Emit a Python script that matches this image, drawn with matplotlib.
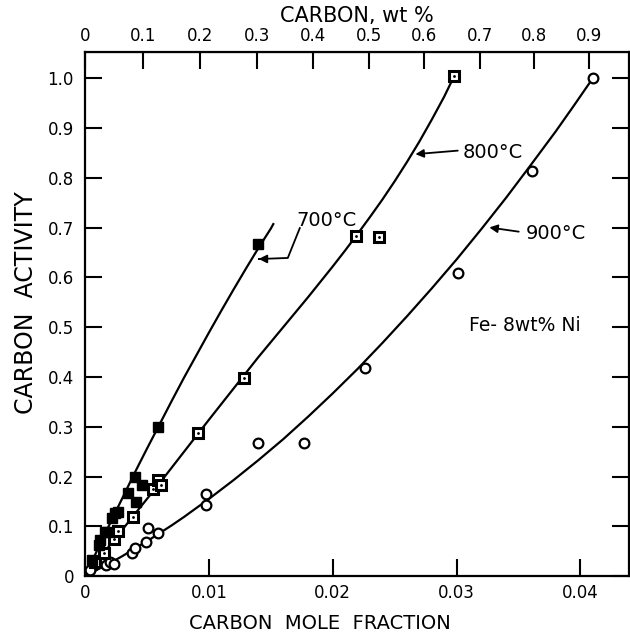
import numpy as np
import matplotlib
matplotlib.use("Agg")
import matplotlib.pyplot as plt

# measured points (carbon mole fraction, carbon activity)
x700 = [0.0006, 0.0011, 0.0012, 0.0016, 0.0018, 0.0022, 0.0024, 0.0027, 0.0035,
        0.0040, 0.0041, 0.0046, 0.0059, 0.0140]
y700 = [0.032, 0.062, 0.072, 0.088, 0.088, 0.116, 0.126, 0.129, 0.167,
        0.199, 0.149, 0.183, 0.299, 0.667]

x800 = [0.0008, 0.0015, 0.0023, 0.0027, 0.0039, 0.0055, 0.0059, 0.0061, 0.0091,
        0.0128, 0.0219, 0.0237, 0.0298]
y800 = [0.028, 0.046, 0.074, 0.090, 0.118, 0.175, 0.193, 0.183, 0.287,
        0.398, 0.683, 0.681, 1.004]

x900 = [0.0004, 0.0017, 0.0020, 0.0023, 0.0038, 0.0040, 0.0049, 0.0051, 0.0059,
        0.0098, 0.0098, 0.0140, 0.0177, 0.0226, 0.0301, 0.0361, 0.0410]
y900 = [0.012, 0.022, 0.028, 0.024, 0.046, 0.056, 0.068, 0.096, 0.086,
        0.143, 0.165, 0.267, 0.267, 0.418, 0.608, 0.813, 1.0]

# hand drawn curves
c700_x = [0, 0.001, 0.002, 0.003, 0.004, 0.005, 0.006, 0.007, 0.008, 0.009,
          0.010, 0.011, 0.012, 0.013, 0.014, 0.015, 0.0152]
c700_y = [0, 0.053, 0.105, 0.156, 0.207, 0.256, 0.304, 0.352, 0.399, 0.444,
          0.489, 0.533, 0.576, 0.618, 0.659, 0.698, 0.707]

c800_x = [0, 0.002, 0.004, 0.006, 0.008, 0.010, 0.012, 0.014, 0.016, 0.018,
          0.020, 0.021, 0.022, 0.023, 0.024, 0.025, 0.026, 0.027, 0.028, 0.029, 0.0298]
c800_y = [0, 0.062, 0.124, 0.186, 0.250, 0.314, 0.377, 0.440, 0.500, 0.560,
          0.622, 0.654, 0.687, 0.721, 0.756, 0.793, 0.832, 0.873, 0.917, 0.963, 1.004]

c900_x = [0, 0.001, 0.002, 0.003, 0.004, 0.005, 0.006, 0.007, 0.008, 0.009,
          0.010, 0.012, 0.014, 0.016, 0.018, 0.020, 0.022, 0.024, 0.026, 0.028,
          0.030, 0.032, 0.034, 0.036, 0.038, 0.0395, 0.041]
c900_y = [0, 0.013, 0.026, 0.040, 0.055, 0.070, 0.086, 0.102, 0.119, 0.137,
          0.155, 0.193, 0.233, 0.275, 0.320, 0.367, 0.416, 0.468, 0.522, 0.578,
          0.636, 0.697, 0.760, 0.826, 0.893, 0.946, 1.0]

y_ticks = [0, 0.1, 0.2, 0.3, 0.4, 0.5, 0.6, 0.7, 0.8, 0.9, 1.0]
y_labels = ['0', '0.1', '0.2', '0.3', '0.4', '0.5', '0.6', '0.7', '0.8', '0.9', '1.0']
x_ticks = [0, 0.01, 0.02, 0.03, 0.04]
x_labels = ['0', '0.01', '0.02', '0.03', '0.04']
wt_ticks = [0, 0.1, 0.2, 0.3, 0.4, 0.5, 0.6, 0.7, 0.8, 0.9]
wt_labels = ['0', '0.1', '0.2', '0.3', '0.4', '0.5', '0.6', '0.7', '0.8', '0.9']

M_C = 12.011
M_ALLOY = 56.07  # Fe-8wt%Ni


def mf2wt(x):
    x = np.asarray(x, dtype=float)
    return 100 * M_C * x / (M_C * x + (1 - x) * M_ALLOY)


def wt2mf(w):
    w = np.asarray(w, dtype=float)
    a = w / M_C
    return a / (a + (100 - w) / M_ALLOY)


plt.rcParams['font.family'] = ['DejaVu Sans']
fig = plt.figure(figsize=(6.3, 6.38), dpi=100)
ax = fig.add_axes([0.135, 0.097, 0.863, 0.821])

ax.plot(c700_x, c700_y, 'k-', lw=1.6)
ax.plot(c800_x, c800_y, 'k-', lw=1.6)
ax.plot(c900_x, c900_y, 'k-', lw=1.6)

ax.plot(x900, y900, 'o', ms=7, mfc='white', mec='black', mew=1.6, zorder=3)
ax.plot(x800, y800, 's', ms=6.5, mfc='white', mec='black', mew=2.2, zorder=3)
ax.plot(x800, y800, '.', ms=2, color='black', zorder=4)
ax.plot(x700, y700, 's', ms=7, color='black', zorder=3)

ax.set_xlim(0, 0.0439)
ax.set_ylim(0, 1.052)
ax.set_xticks(x_ticks)
ax.set_xticklabels(x_labels)
ax.set_yticks(y_ticks)
ax.set_yticklabels(y_labels)
ax.tick_params(direction='in', length=12, width=1.5, labelsize=12, right=True)
ax.tick_params(axis='x', pad=6)
ax.tick_params(axis='y', pad=8)
for s in ax.spines.values():
    s.set_linewidth(1.6)

ax.set_xlabel('CARBON  MOLE  FRACTION', fontsize=14)
ax.xaxis.set_label_coords(0.432, -0.072)
ax.set_ylabel('CARBON  ACTIVITY', fontsize=17)
ax.yaxis.set_label_coords(-0.087, 0.523)

top = ax.secondary_xaxis('top', functions=(mf2wt, wt2mf))
top.set_xticks(wt_ticks)
top.set_xticklabels(wt_labels)
top.tick_params(direction='in', length=12, width=1.5, labelsize=12, pad=5)
top.set_xlabel('CARBON, wt %', fontsize=15, labelpad=4)

# curve labels with arrows
ax.text(0.0195, 0.715, '700°C', fontsize=14, ha='center', va='center')
ax.plot([0.01734, 0.01637, 0.0142], [0.699, 0.639, 0.637], 'k-', lw=1.3)
ax.annotate('', xy=(0.01379, 0.637), xytext=(0.0143, 0.637),
            arrowprops=dict(arrowstyle='-|>', color='black', lw=1.3, mutation_scale=12))

ax.text(0.0329, 0.851, '800°C', fontsize=14, ha='center', va='center')
ax.annotate('', xy=(0.02645, 0.847), xytext=(0.03032, 0.855),
            arrowprops=dict(arrowstyle='-|>', color='black', lw=1.3, mutation_scale=12))

ax.text(0.0380, 0.689, '900°C', fontsize=14, ha='center', va='center')
ax.annotate('', xy=(0.03242, 0.701), xytext=(0.03524, 0.691),
            arrowprops=dict(arrowstyle='-|>', color='black', lw=1.3, mutation_scale=12))

ax.text(0.0355, 0.504, 'Fe- 8wt% Ni', fontsize=13.5, ha='center', va='center')

fig.savefig('out.png', dpi=100)
